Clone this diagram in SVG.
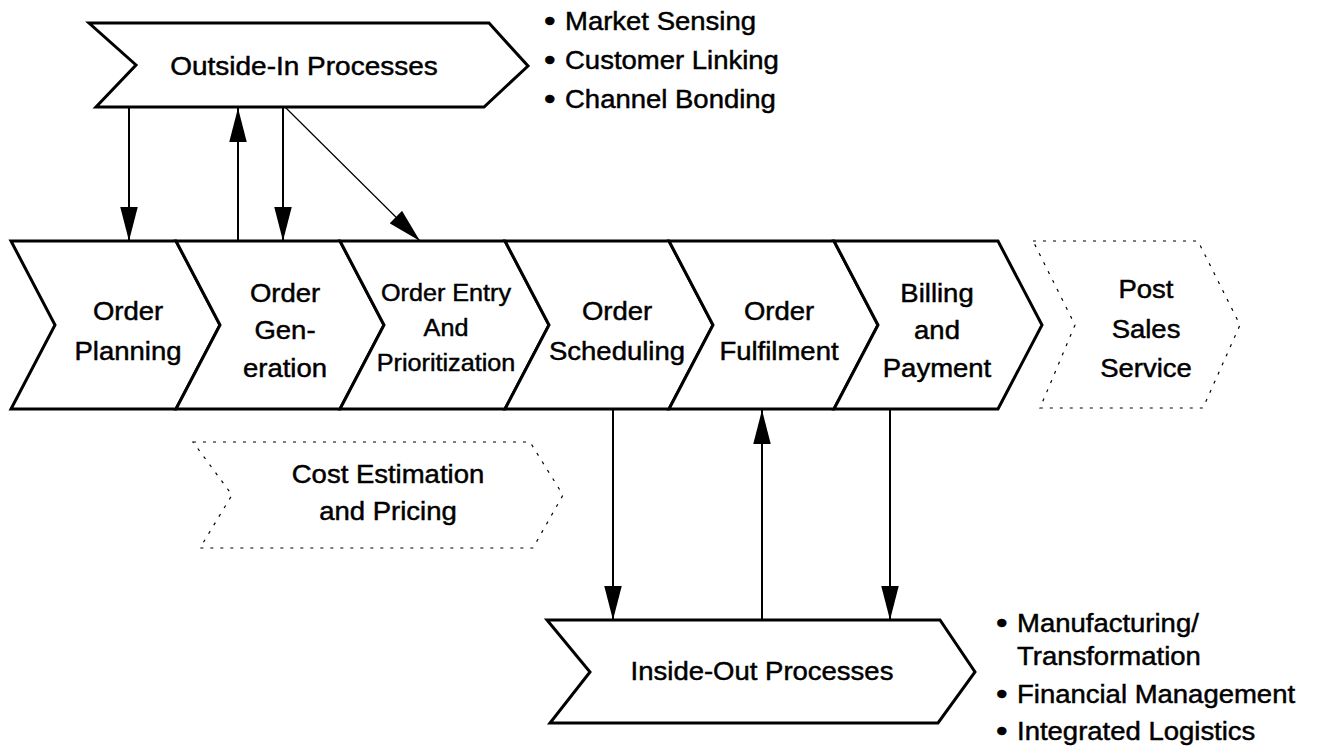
<svg xmlns="http://www.w3.org/2000/svg" width="1318" height="750" viewBox="0 0 1318 750">
<style>
.shape{fill:#fff;stroke:#000;stroke-width:3;stroke-linejoin:miter}
.dotted{fill:none;stroke:#000;stroke-width:1.2;stroke-dasharray:3 7}
.t{font-family:"Liberation Sans",Arial,Helvetica,sans-serif;font-size:25px;fill:#000;stroke:#000;stroke-width:0.45}
.s{font-size:24px}
.b{font-size:30px}
.conn{stroke:#000;stroke-width:2;fill:none}
.thin{stroke-width:1.2}
</style>
<defs>
<marker id="ah" markerUnits="userSpaceOnUse" markerWidth="34" markerHeight="18" viewBox="0 0 33 17" refX="33" refY="8.5" orient="auto">
<path d="M0,0 L33,8.5 L0,17 z" fill="#000"/>
</marker>
</defs>
<rect width="1318" height="750" fill="#fff"/>

<g id="outside-in">
<polygon class="shape" points="89,23 489,23 528,66 484,107 96,107 136,65"/>
<text class="t" text-anchor="middle" transform="translate(304 0) scale(1.12 1)"><tspan x="0" y="75">Outside-In Processes</tspan></text>
</g>
<g id="outside-in-list">
<text class="t" transform="translate(565 0) scale(1.1 1)"><tspan class="b" x="-19" y="31">•</tspan><tspan x="0" y="30">Market Sensing</tspan><tspan class="b" x="-19" y="70">•</tspan><tspan x="0" y="69">Customer Linking</tspan><tspan class="b" x="-19" y="109">•</tspan><tspan x="0" y="108">Channel Bonding</tspan></text>
</g>

<g id="order-planning">
<polygon class="shape" points="11,241 176,241 220,325 176,409 11,409 55,325"/>
<text class="t" text-anchor="middle" transform="translate(128 0) scale(1.1 1)"><tspan x="0" y="320">Order</tspan><tspan x="0" y="360">Planning</tspan></text>
</g>
<g id="order-generation">
<polygon class="shape" points="176,241 340,241 384,325 340,409 176,409 220,325"/>
<text class="t" text-anchor="middle" transform="translate(285 0) scale(1.1 1)"><tspan x="0" y="302">Order</tspan><tspan x="0" y="339">Gen-</tspan><tspan x="0" y="377">eration</tspan></text>
</g>
<g id="order-entry">
<polygon class="shape" points="340,241 505,241 549,325 505,409 340,409 384,325"/>
<text class="t s" text-anchor="middle" transform="translate(446 0) scale(1.05 1)"><tspan x="0" y="301">Order Entry</tspan><tspan x="0" y="336">And</tspan><tspan x="0" y="371">Prioritization</tspan></text>
</g>
<g id="order-scheduling">
<polygon class="shape" points="505,241 669,241 713,325 669,409 505,409 549,325"/>
<text class="t" text-anchor="middle" transform="translate(617 0) scale(1.1 1)"><tspan x="0" y="320">Order</tspan><tspan x="0" y="360">Scheduling</tspan></text>
</g>
<g id="order-fulfilment">
<polygon class="shape" points="669,241 834,241 878,325 834,409 669,409 713,325"/>
<text class="t" text-anchor="middle" transform="translate(779 0) scale(1.1 1)"><tspan x="0" y="320">Order</tspan><tspan x="0" y="360">Fulfilment</tspan></text>
</g>
<g id="billing-payment">
<polygon class="shape" points="834,241 998,241 1042,325 998,409 834,409 878,325"/>
<text class="t" text-anchor="middle" transform="translate(937 0) scale(1.1 1)"><tspan x="0" y="302">Billing</tspan><tspan x="0" y="339">and</tspan><tspan x="0" y="377">Payment</tspan></text>
</g>
<g id="post-sales-service">
<polygon class="dotted" points="1033,241 1198,241 1240,325 1203,408 1040,408 1075,325"/>
<text class="t" text-anchor="middle" transform="translate(1146 0) scale(1.1 1)"><tspan x="0" y="298">Post</tspan><tspan x="0" y="338">Sales</tspan><tspan x="0" y="377">Service</tspan></text>
</g>
<g id="cost-estimation">
<polygon class="dotted" points="193,442 530,442 563,495 533,548 200,548 232,495"/>
<text class="t" text-anchor="middle" transform="translate(388 0) scale(1.1 1)"><tspan x="0" y="483">Cost Estimation</tspan><tspan x="0" y="520">and Pricing</tspan></text>
</g>

<g id="inside-out">
<polygon class="shape" points="547,620 940,620 975,672 938,723 550,723 590,672"/>
<text class="t" text-anchor="middle" transform="translate(762 0) scale(1.1 1)"><tspan x="0" y="680">Inside-Out Processes</tspan></text>
</g>
<g id="inside-out-list">
<text class="t" transform="translate(1017 0) scale(1.1 1)"><tspan class="b" x="-19" y="633">•</tspan><tspan x="0" y="632">Manufacturing/</tspan><tspan x="0" y="665">Transformation</tspan><tspan class="b" x="-19" y="704">•</tspan><tspan x="0" y="703">Financial Management</tspan><tspan class="b" x="-19" y="741">•</tspan><tspan x="0" y="740">Integrated Logistics</tspan></text>
</g>

<g id="connectors">
<line class="conn" x1="129" y1="107" x2="129" y2="241" marker-end="url(#ah)"/>
<line class="conn" x1="238" y1="241" x2="238" y2="108" marker-end="url(#ah)"/>
<line class="conn" x1="283" y1="107" x2="283" y2="241" marker-end="url(#ah)"/>
<line class="conn thin" x1="285" y1="107" x2="420" y2="241" marker-end="url(#ah)"/>
<line class="conn" x1="613" y1="409" x2="613" y2="620" marker-end="url(#ah)"/>
<line class="conn" x1="762" y1="620" x2="762" y2="410" marker-end="url(#ah)"/>
<line class="conn" x1="890" y1="409" x2="890" y2="620" marker-end="url(#ah)"/>
</g>
</svg>
